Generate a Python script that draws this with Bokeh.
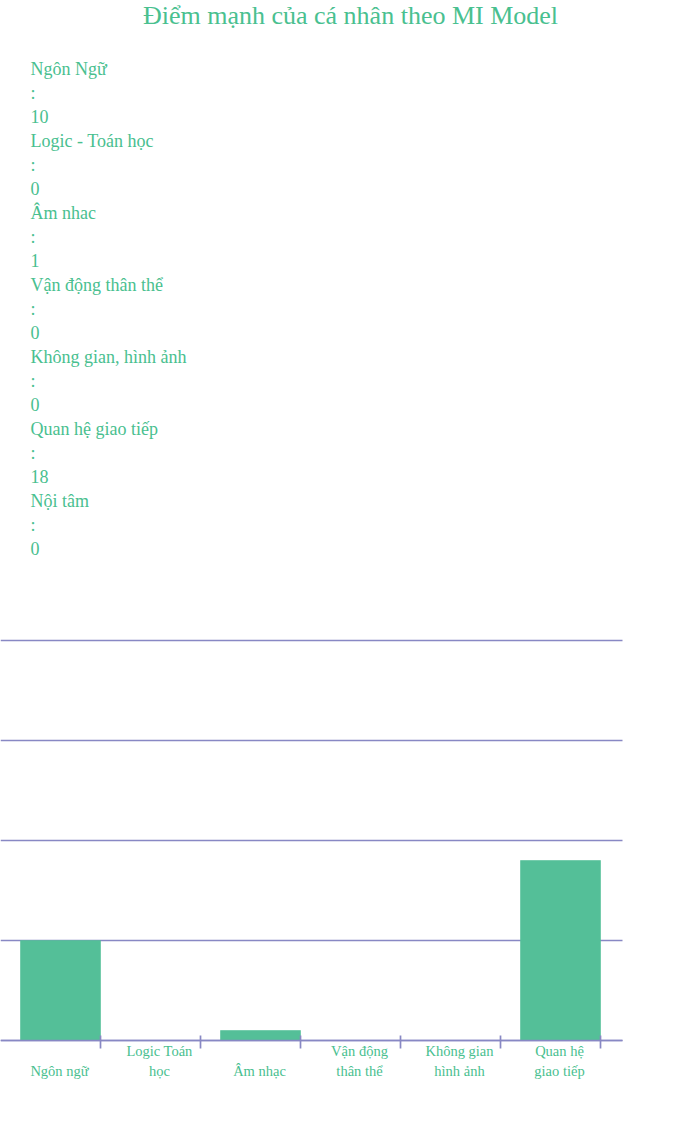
from bokeh.plotting import figure
from bokeh.models import Range1d
from bokeh.core.properties import value
from bokeh.embed import file_html
from bokeh.resources import INLINE

title = "Điểm mạnh của cá nhân theo MI Model"
list_names = ["Ngôn Ngữ", "Logic - Toán học", "Âm nhac", "Vận động thân thể",
              "Không gian, hình ảnh", "Quan hệ giao tiếp", "Nội tâm"]
list_values = [10, 0, 1, 0, 0, 18, 0]

categories = ["Ngôn ngữ", "Logic Toán học", "Âm nhạc", "Vận động thân thể",
              "Không gian hình ảnh", "Quan hệ giao tiếp"]
scores = [10, 0, 1, 0, 0, 18]
grid_values = [0, 10, 20, 30, 40]

GREEN_TEXT = "#49c08f"
BAR = "#54bf98"
GRID = "#8888c4"
FONT = value("Liberation Serif")

W, H = 700, 1140
# 1 x unit = 100 px ; 1 y unit = 10 px ; y=0 at 1040 px from top
p = figure(width=W, height=H, output_backend="svg", toolbar_location=None,
           x_range=Range1d(0, 7), y_range=Range1d(-10, 104),
           min_border=0, min_border_left=0, min_border_right=0,
           min_border_top=0, min_border_bottom=0)
p.axis.visible = False
p.grid.visible = False
p.outline_line_color = None
p.background_fill_color = "white"
p.border_fill_color = "white"

def ypix(px):
    return (1040 - px) / 10.0

# title
p.text(x=[3.5], y=[ypix(15)], text=[title], text_font=FONT, text_font_size="26px",
       text_color=GREEN_TEXT, text_align="center", text_baseline="middle")

# list
lx, ly, lt = [], [], []
for i, (n, v) in enumerate(zip(list_names, list_values)):
    base = 68 + i * 72
    for j, t in enumerate([n, ":", str(v)]):
        lx.append(0.3)
        ly.append(ypix(base + j * 24))
        lt.append(t)
p.text(x=lx, y=ly, text=lt, text_font=FONT, text_font_size="18px",
       text_color=GREEN_TEXT, text_align="left", text_baseline="middle")

# grid lines
n = len(categories)
axis_end = n + 0.22
p.segment(x0=[0] * len(grid_values), x1=[axis_end] * len(grid_values),
          y0=grid_values, y1=grid_values, line_color=GRID, line_width=1.7)

# bars
xs = [i + 0.6 for i in range(n)]
p.vbar(x=xs, top=scores, bottom=0, width=0.8, fill_color=BAR, line_color=BAR,
       line_alpha=0.6, line_width=1)

# axis line over bars
p.segment(x0=[0], x1=[axis_end], y0=[0], y1=[0], line_color=GRID, line_width=1.7)

# ticks
tx = [i + 1 for i in range(n)]
p.segment(x0=tx, x1=tx, y0=[0.5] * n, y1=[-0.8] * n, line_color=GRID, line_width=1.7)

# wrapped category labels
def wrap(s, limit=10):
    words = s.split()
    lines, cur = [], ""
    for w in words:
        cand = (cur + " " + w).strip()
        if len(cand) > limit and cur:
            lines.append(cur)
            cur = w
        else:
            cur = cand
    lines.append(cur)
    return lines

cx, cy, ct = [], [], []
for i, c in enumerate(categories):
    lines = wrap(c)
    k = len(lines)
    for j, t in enumerate(lines):
        cx.append(i + 0.59)
        cy.append(ypix(1070 - (k - 1 - j) * 20))
        ct.append(t)
p.text(x=cx, y=cy, text=ct, text_font=FONT, text_font_size="14.5px",
       text_color=GREEN_TEXT, text_align="center", text_baseline="middle")

open("out.html", "w").write(file_html(p, INLINE))
